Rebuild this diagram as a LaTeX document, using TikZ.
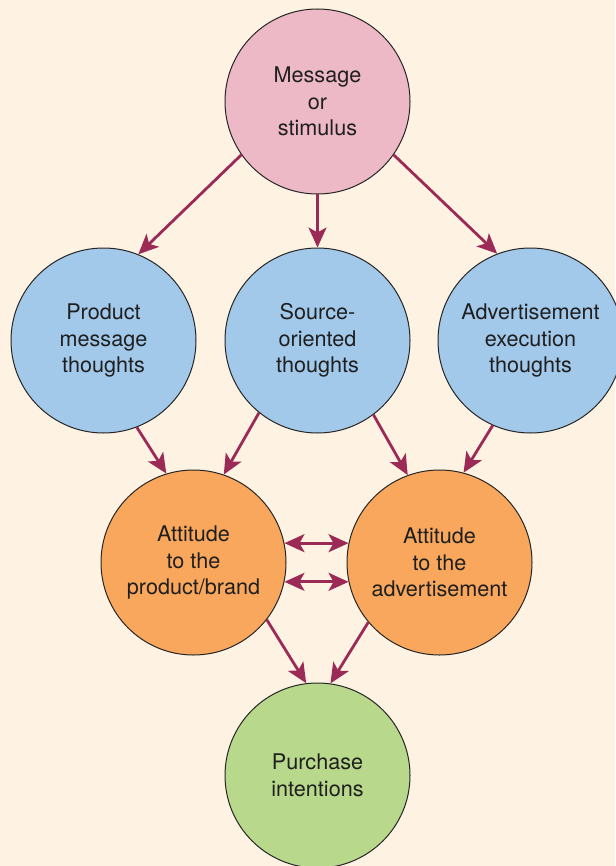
\documentclass[tikz,border=0pt]{standalone}
\usepackage{fontspec}
\setmainfont{TeX Gyre Heros}
\usetikzlibrary{arrows.meta}
\definecolor{cream}{HTML}{FEF2E3}
\definecolor{pinkfill}{HTML}{EDB9C6}
\definecolor{bluefill}{HTML}{A2C8EA}
\definecolor{orangefill}{HTML}{F8A75C}
\definecolor{greenfill}{HTML}{B8D88B}
\definecolor{maroon}{HTML}{9C2A56}
\begin{document}
\begin{tikzpicture}[x=0.5pt,y=-0.5pt,
            bubble/.style={circle,draw=black!85,line width=0.5pt,minimum size=92.5pt,inner sep=0pt,align=center,text=black!88,font=\fontsize{10.8}{13.3}\selectfont},
            link/.style={draw=maroon,line width=1.4pt,-{Stealth[length=10pt,width=9pt,inset=2.5pt]}},
            both/.style={draw=maroon,line width=1.4pt,{Stealth[length=10pt,width=9pt,inset=2.5pt]}-{Stealth[length=10pt,width=9pt,inset=2.5pt]}}]

            \fill[cream] (0,0) rectangle (615,866);
            \useasboundingbox (0,0) rectangle (615,866);

            \node[bubble,fill=pinkfill] (msg) at (317.5,101.5) {Message\\or\\stimulus};
            \node[bubble,fill=bluefill] (prod) at (103.5,340.5) {Product\\message\\thoughts};
            \node[bubble,fill=bluefill] (src) at (317.5,340.5) {Source-\\oriented\\thoughts};
            \node[bubble,fill=bluefill] (adv) at (530.5,340.5) {Advertisement\\execution\\thoughts};
            \node[bubble,fill=orangefill] (attp) at (193.5,562.5) {Attitude\\to the\\product/brand};
            \node[bubble,fill=orangefill] (atta) at (439.5,562.5) {Attitude\\to the\\advertisement};
            \node[bubble,fill=greenfill] (buy) at (317.5,775.5) {Purchase\\intentions};

            \draw[link] (msg.215) -- (prod.68.5);
            \draw[link] (msg.south) -- (src.north);
            \draw[link] (msg.-35) -- (adv.111.5);

            \draw[link] (prod.-69) -- (attp.107.7);
            \draw[link] (src.231) -- (attp.71.8);
            \draw[link] (src.-53.6) -- (atta.110);
            \draw[link] (adv.-114) -- (atta.75);

            \draw[both] (attp.12) -- (atta.168);
            \draw[both] (attp.-12) -- (atta.192);

            \draw[link] (attp.-38) -- (buy.97.6);
            \draw[link] (atta.220) -- (buy.82);
         \end{tikzpicture}
\end{document}
